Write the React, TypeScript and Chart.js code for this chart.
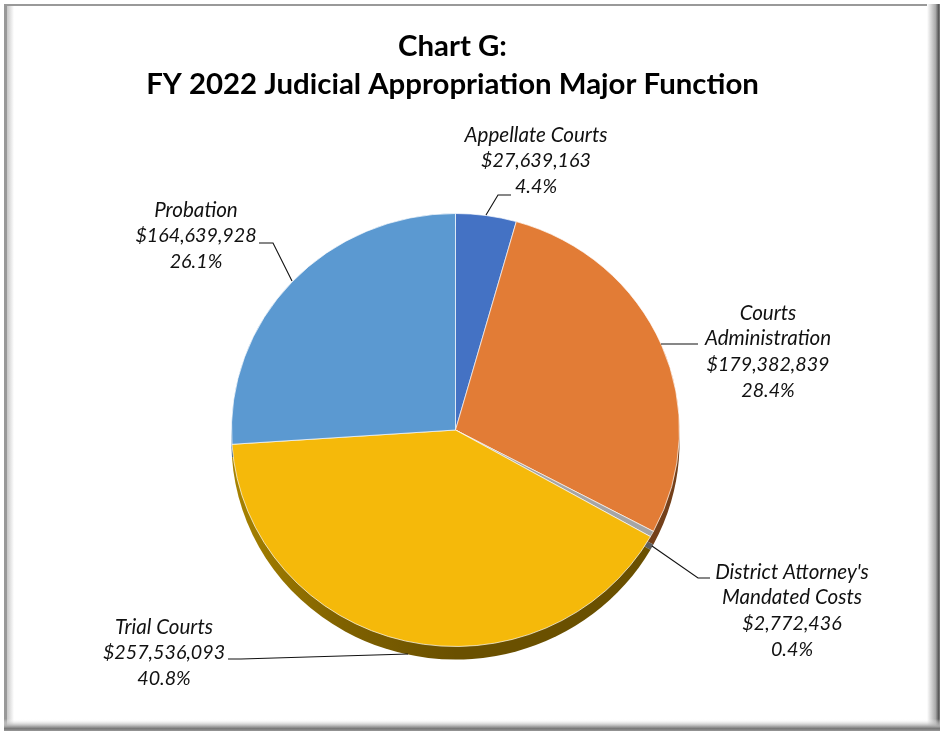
import React, { useEffect, useRef } from "react";
import { Chart, registerables } from "chart.js";

Chart.register(...registerables);

const titleLines = ["Chart G:", "FY 2022 Judicial Appropriation Major Function"];
const categories = ["Appellate Courts", "Courts Administration", "District Attorney's Mandated Costs", "Trial Courts", "Probation"];
const categoryLines = [["Appellate Courts"], ["Courts", "Administration"], ["District Attorney's", "Mandated Costs"], ["Trial Courts"], ["Probation"]];
const amounts = [27639163, 179382839, 2772436, 257536093, 164639928];
const percents = ["4.4%", "28.4%", "0.4%", "40.8%", "26.1%"];
const colors = ["#4472C4", "#E27C36", "#A5A5A5", "#F5B90A", "#5B99D1"];
const sideColors = ["#2A4478", "#74401A", "#5E5E5E", "#6F5500", "#34597C"];

// label layout: text centre x, first line centre y
const labelCenters = [[536, 135], [768, 313], [792, 572], [164, 627], [196, 210]];
// leader lines
const leaders = [
  [[486, 215], [498, 195], [511, 195]],
  [[661, 344], [698, 344]],
  [[652, 546], [698, 578], [710, 578]],
  [[408, 654], [241, 659], [228, 659]],
  [[292, 281], [273, 243], [259, 243]],
];

const CX = 455.5, CY = 430, RX = 224, RY = 216.5, DEPTH = 13;
const FONT = "Lato";

const framePlugin = {
  id: "frame",
  beforeDraw(chart: any) {
    const { ctx, width: w, height: h } = chart;
    ctx.save();
    ctx.fillStyle = "#fff";
    ctx.fillRect(0, 0, w, h);
    let g = ctx.createLinearGradient(4, 0, 14, 0);
    g.addColorStop(0, "#999");
    g.addColorStop(0.25, "#999");
    g.addColorStop(0.3, "#c8c8c8");
    g.addColorStop(1, "#fff");
    ctx.fillStyle = g;
    ctx.fillRect(4, 4, 10, h - 8);
    ctx.fillStyle = "#999";
    ctx.fillRect(4, 4, w - 8, 2);
    g = ctx.createLinearGradient(927, 0, 940, 0);
    g.addColorStop(0, "#fff");
    g.addColorStop(0.65, "#aaa");
    g.addColorStop(0.9, "#555");
    g.addColorStop(1, "#888");
    ctx.fillStyle = g;
    ctx.fillRect(927, 4, 13, h - 4);
    g = ctx.createLinearGradient(0, 719, 0, 731);
    g.addColorStop(0, "rgba(255,255,255,0)");
    g.addColorStop(0.6, "#aaa");
    g.addColorStop(0.8, "#777");
    g.addColorStop(1, "#999");
    ctx.fillStyle = g;
    ctx.fillRect(4, 719, w - 4, 12);
    ctx.restore();
  },
};

const piePlugin = {
  id: "pie3d",
  beforeDatasetsDraw(chart: any) {
    const { ctx } = chart;
    const arcs = chart.getDatasetMeta(0).data;
    const c = arcs[0].getProps(["x", "y"], true);
    const sy = RY / RX;
    ctx.save();
    // side wall, drawn as the same sectors pushed down
    ctx.save();
    ctx.translate(CX, CY + DEPTH);
    ctx.scale(1, sy);
    arcs.forEach((a: any, i: number) => {
      const p = a.getProps(["startAngle", "endAngle", "outerRadius"], true);
      ctx.beginPath();
      ctx.moveTo(0, 0);
      ctx.arc(0, 0, p.outerRadius, p.startAngle, p.endAngle);
      ctx.closePath();
      if (i === 3) {
        const g = ctx.createLinearGradient(-RX, 0, 0, 0);
        g.addColorStop(0, "#A88300");
        g.addColorStop(0.5, "#7F6100");
        g.addColorStop(1, "#6A5000");
        ctx.fillStyle = g;
      } else ctx.fillStyle = sideColors[i];
      ctx.fill();
    });
    ctx.restore();
    // top face: the library's arcs, mapped on to the ellipse
    ctx.translate(CX, CY);
    ctx.scale(1, sy);
    ctx.translate(-c.x, -c.y);
  },
  afterDatasetsDraw(chart: any) {
    const { ctx } = chart;
    ctx.restore();
    ctx.save();
    ctx.strokeStyle = "#111";
    ctx.lineWidth = 1.1;
    leaders.forEach((l) => {
      ctx.beginPath();
      l.forEach(([x, y], j) => (j ? ctx.lineTo(x, y) : ctx.moveTo(x, y)));
      ctx.stroke();
    });
    ctx.fillStyle = "#111";
    ctx.textAlign = "center";
    ctx.textBaseline = "middle";
    categoryLines.forEach((cat, i) => {
      const lines = [...cat, "$" + amounts[i].toLocaleString("en-US"), percents[i]];
      lines.forEach((t, j) => {
        ctx.font = `italic ${j < cat.length ? 20.6 : 19.7}px ${FONT}`;
        ctx.fillText(t, labelCenters[i][0], labelCenters[i][1] + j * 25.8);
      });
    });
    ctx.restore();
  },
};

export default function App() {
  const ref = useRef<HTMLCanvasElement>(null);
  useEffect(() => {
    const chart = new Chart(ref.current!, {
      type: "pie",
      data: {
        labels: categories,
        datasets: [{
          data: amounts,
          backgroundColor: colors,
          borderColor: "rgba(255,255,255,0.7)",
          borderWidth: 1,
          radius: RX,
        }],
      },
      options: {
        responsive: false,
        animation: false,
        layout: { padding: { right: 35 } },
        plugins: {
          legend: { display: false },
          tooltip: { enabled: false },
          title: {
            display: true,
            text: titleLines,
            color: "#000",
            font: { family: FONT, size: 29.4, weight: "bold", lineHeight: 1.31 },
            padding: { top: 27, bottom: 25 },
          },
        },
      } as any,
      plugins: [framePlugin, piePlugin],
    });
    return () => chart.destroy();
  }, []);
  return (
    <div style={{ position: "absolute", left: 0, top: 0, width: 940, height: 731 }}>
      <canvas ref={ref} width={940} height={731} style={{ display: "block" }} />
    </div>
  );
}
